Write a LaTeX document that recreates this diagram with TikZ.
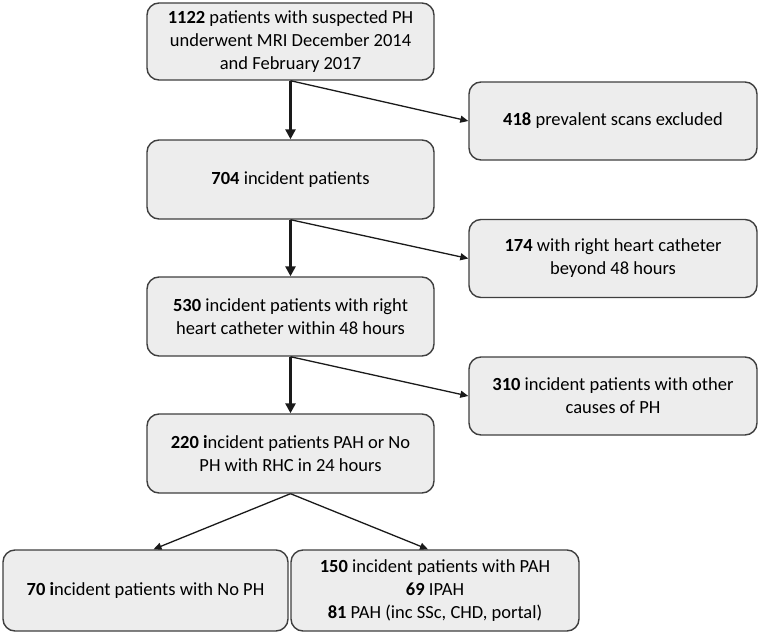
\documentclass[tikz,border=0pt]{standalone}
\usepackage{fontspec}
\setmainfont{Carlito}
\usetikzlibrary{arrows.meta,calc}
\definecolor{boxfill}{HTML}{EDEDED}
\definecolor{boxline}{HTML}{3F3F3F}
\definecolor{arrowcol}{HTML}{1A1A1A}
\begin{document}
\begin{tikzpicture}[x=1pt,y=-1pt,
  flowbox/.style={draw=boxline, fill=boxfill, line width=1.4pt, rounded corners=12pt,
    align=center, inner sep=0pt, font=\fontsize{18.5}{23}\selectfont},
  mainbox/.style={flowbox, minimum width=287pt, minimum height=79pt},
  sidebox/.style={flowbox, minimum width=288pt, minimum height=78pt},
  mainarrow/.style={draw=arrowcol, line width=2.8pt, -{Triangle[length=10pt,width=10pt]}},
  sidearrow/.style={draw=arrowcol, line width=1.3pt, -{Triangle[length=8pt,width=7pt]}}
]
\useasboundingbox (0,0) rectangle (760,634);
\node[mainbox, minimum height=77pt] (n1122) at (290.5,41.5) {\textbf{1122} patients with suspected PH\\underwent MRI December 2014\\and February 2017};
\node[mainbox] (n704) at (290.5,179.5) {\textbf{704} incident patients};
\node[mainbox] (n530) at (290.5,316.5) {\textbf{530} incident patients with right\\heart catheter within 48 hours};
\node[mainbox] (n220) at (290.5,453.5) {\textbf{220 i}ncident patients PAH or No\\PH with RHC in 24 hours};
\node[sidebox] (n418) at (613,121) {\textbf{418} prevalent scans excluded};
\node[sidebox] (n174) at (613,258.5) {\textbf{174} with right heart catheter\\beyond 48 hours};
\node[sidebox] (n310) at (613,396) {\textbf{310} incident patients with other\\causes of PH};
\node[flowbox, minimum width=285pt, minimum height=81pt] (n70) at (145.5,590.5) {\textbf{70 i}ncident patients with No PH};
\node[flowbox, minimum width=288pt, minimum height=81pt] (n150) at (435,590.5) {\textbf{150} incident patients with PAH\\\textbf{69} IPAH\\\textbf{81} PAH (inc SSc, CHD, portal)};
\draw[mainarrow] (n1122.south) -- (n704.north);
\draw[mainarrow] (n704.south) -- (n530.north);
\draw[mainarrow] (n530.south) -- (n220.north);
\draw[sidearrow] (n1122.south) -- (n418.west);
\draw[sidearrow] (n704.south) -- (n174.west);
\draw[sidearrow] (n530.south) -- (n310.west);
\draw[sidearrow] (n220.south) -- ($(n70.north)+(8,0)$);
\draw[sidearrow] (n220.south) -- ($(n150.north)+(-7,0)$);
\end{tikzpicture}
\end{document}
